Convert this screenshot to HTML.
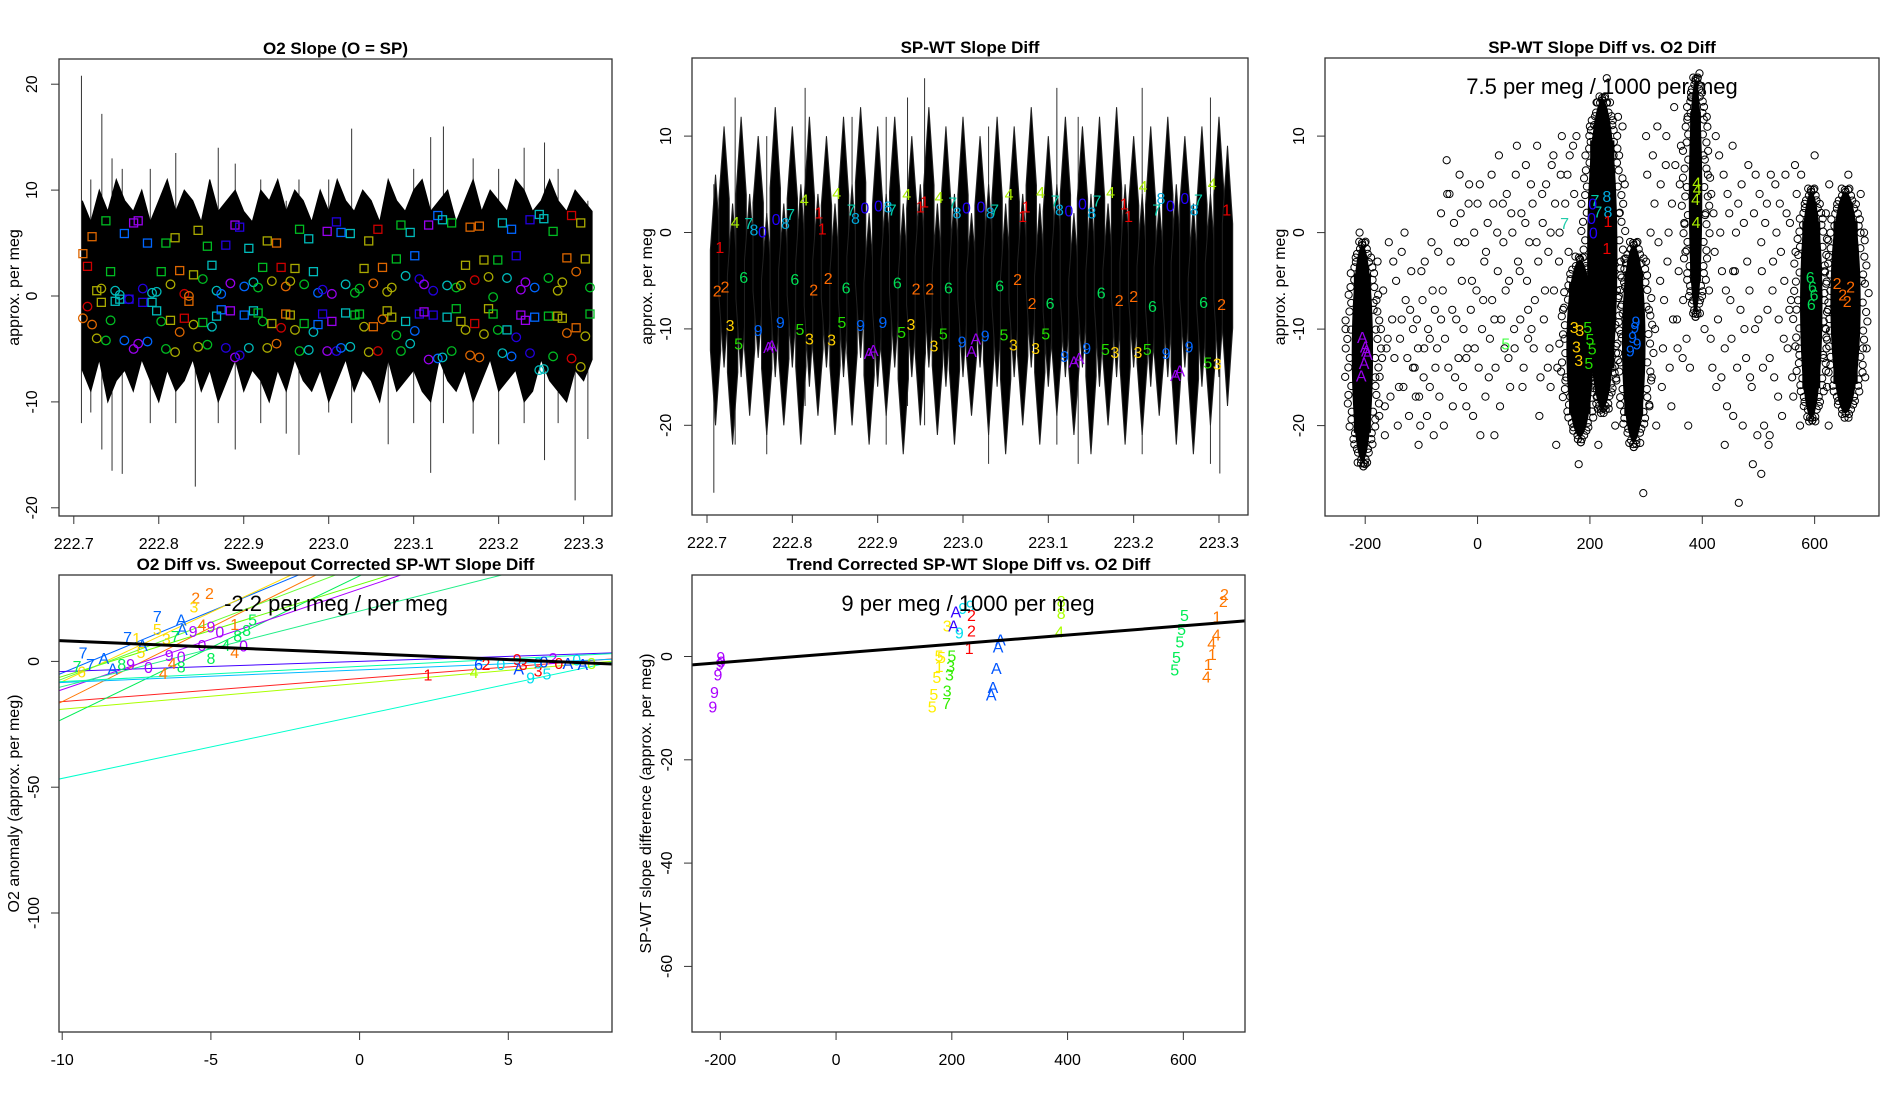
<!DOCTYPE html>
<html><head><meta charset="utf-8">
<style>
html,body{margin:0;padding:0;background:#fff;}
svg{display:block;font-family:"Liberation Sans",sans-serif;}
</style></head>
<body>
<svg id="fig" width="1900" height="1100" viewBox="0 0 1900 1100" xmlns="http://www.w3.org/2000/svg">
<rect x="0" y="0" width="1900" height="1100" fill="#fff"/>
</svg>
<script>
// ---------- Panel 1 data: O2 slope ----------
const envT=[222.71,222.72,222.73,222.74,222.75,222.76,222.77,222.78,222.79,222.80,222.81,222.82,222.83,222.84,222.85,222.86,222.87,222.88,222.89,222.90,222.91,222.92,222.93,222.94,222.95,222.96,222.97,222.98,222.99,223.00,223.01,223.02,223.03,223.04,223.05,223.06,223.07,223.08,223.09,223.10,223.11,223.12,223.13,223.14,223.15,223.16,223.17,223.18,223.19,223.20,223.21,223.22,223.23,223.24,223.25,223.26,223.27,223.28,223.29,223.30,223.31];
const envHi=[9,7,10,8,11,9,8,10,7,9,11,8,10,9,7,11,8,9,10,8,7,10,9,11,8,10,9,7,10,8,11,9,8,10,9,7,11,9,8,10,11,8,9,10,7,9,11,8,10,9,8,11,10,8,9,11,9,8,10,9,8];
const envLo=[-7,-9,-6,-10,-8,-7,-9,-6,-8,-10,-7,-9,-8,-6,-9,-7,-10,-8,-6,-9,-7,-8,-10,-7,-9,-6,-8,-9,-7,-10,-8,-6,-9,-7,-8,-10,-6,-9,-8,-7,-9,-10,-6,-8,-9,-7,-10,-8,-6,-9,-8,-7,-10,-9,-6,-8,-9,-10,-7,-8,-6];
const spikeT=[222.709,222.72,222.733,222.745,222.757,222.79,222.82,222.843,222.870,222.89,222.92,222.95,222.965,223.0,223.027,223.07,223.1,223.12,223.135,223.17,223.2,223.23,223.254,223.27,223.29,223.305];
const spikeHi=[20.8,11,17.2,13,12,12,13.5,5,14,12.5,11,9,11,11,15.8,9,12,15,16,13,12,14,14.5,12,10,9];
const spikeLo=[-12,-11,-14.5,-16.5,-16.8,-12,-12,-18,-12,-14.5,-12,-13,-15,-11,-12,-14,-12,-16.7,-12,-13,-14,-12,-15.5,-12,-19.3,-13.5];
const mT=[222.7107,222.7161,222.7215,222.7270,222.7324,222.7378,222.7433,222.7487,222.7541,222.7595,222.7650,222.7704,222.7758,222.7812,222.7867,222.7921,222.7975,222.8029,222.8084,222.8138,222.8192,222.8246,222.8301,222.8355,222.8409,222.8463,222.8518,222.8572,222.8626,222.8680,222.8735,222.8789,222.8843,222.8897,222.8952,222.9006,222.9060,222.9114,222.9169,222.9223,222.9277,222.9331,222.9386,222.9440,222.9494,222.9548,222.9603,222.9657,222.9711,222.9765,222.9820,222.9874,222.9928,222.9982,223.0037,223.0091,223.0145,223.0199,223.0254,223.0308,223.0362,223.0416,223.0471,223.0525,223.0579,223.0633,223.0688,223.0742,223.0796,223.0850,223.0905,223.0959,223.1013,223.1067,223.1122,223.1176,223.1230,223.1284,223.1339,223.1393,223.1447,223.1501,223.1556,223.1610,223.1664,223.1718,223.1773,223.1827,223.1881,223.1935,223.1990,223.2044,223.2098,223.2152,223.2207,223.2261,223.2315,223.2369,223.2424,223.2478,223.2532,223.2586,223.2641,223.2695,223.2749,223.2803,223.2858,223.2912,223.2966,223.3020,223.3075];
const sqY=[4.0,2.8,5.6,0.5,-0.6,7.1,2.3,-0.5,-0.3,5.9,-0.3,6.9,7.1,-0.6,5.0,-0.6,-1.4,2.3,5.0,-2.3,5.5,2.4,-2.1,-0.5,2.0,6.2,-2.5,4.7,2.9,-1.9,-1.3,4.8,-1.4,6.7,6.5,-1.8,4.5,-1.4,-1.6,2.7,5.2,-2.6,5.0,2.7,-1.7,-1.8,2.6,6.3,-2.6,5.4,2.3,-2.7,-1.7,6.1,-2.4,7.0,6.0,-1.6,5.9,-1.8,-1.7,2.6,5.2,-2.9,6.3,2.7,-1.4,-2.0,3.5,6.7,-2.4,6.0,3.8,-1.7,-1.5,6.7,-1.8,7.6,7.2,-2.0,6.9,-1.2,-2.4,2.9,6.5,-2.6,6.6,3.4,-1.2,-1.7,3.4,6.9,-3.2,6.3,3.8,-1.8,-2.3,7.2,-2.0,7.7,7.3,-1.9,6.1,-1.9,-2.1,3.6,7.6,-3.0,6.9,3.5,-1.7];
const ciY=[-2.1,-1.0,-2.7,-4.0,0.7,-4.2,-2.3,0.5,0.1,-4.2,-0.3,-5.0,-4.5,0.7,-4.3,0.3,0.4,-2.4,-5.0,1.1,-5.3,-3.4,0.2,0.0,-2.7,-4.8,1.6,-4.6,-2.9,0.5,0.2,-4.9,1.2,-5.8,-5.6,0.9,-4.9,1.3,0.8,-2.4,-4.9,1.4,-4.5,-3.0,0.9,1.4,-3.2,-5.2,1.1,-5.1,-3.4,0.3,0.6,-5.2,0.2,-5.2,-4.9,1.1,-4.8,0.3,0.7,-2.9,-5.3,1.2,-5.2,-2.2,0.4,0.8,-3.7,-5.2,1.9,-4.5,-3.3,1.6,1.1,-6.0,0.5,-5.9,-5.8,1.0,-5.2,0.8,1.0,-3.2,-5.6,1.5,-5.8,-3.6,1.8,-0.1,-3.2,-5.4,1.7,-5.7,-3.9,0.6,1.3,-5.4,0.8,-7.0,-6.9,1.7,-5.7,0.5,1.3,-3.5,-5.9,2.3,-6.7,-3.8,0.8];
const mGroup=[0,1,0,2,2,3,3,4,4,5,6,7,7,6,5,4,4,3,3,2,2];

// ---------- Panel 2 data: SP-WT slope diff ----------
const env2Hi=[6,11,3,12,4,10,2,13,3,11,5,12,4,10,3,12,5,13,2,11,4,12,3,10,5,13,3,11,4,12,2,10,5,12,3,11,4,13,3,10,5,12,2,11,4,12,3,13,5,10,4,11,3,12,5,10,3,11,4,12,9];
const env2Lo=[-20,-14,-22,-15,-19,-13,-21,-15,-20,-14,-22,-16,-19,-14,-21,-15,-20,-13,-22,-16,-19,-14,-23,-15,-20,-14,-21,-16,-22,-15,-19,-14,-21,-16,-23,-15,-20,-14,-22,-16,-19,-15,-21,-14,-23,-16,-20,-15,-22,-14,-21,-16,-19,-15,-22,-14,-23,-16,-20,-15,-18];
const spike2T=[222.708,222.733,222.77,222.815,222.87,222.91,222.935,222.955,223.03,223.11,223.135,223.21,223.29,223.301];
const spike2Hi=[5,14,10,15,12,12,14,16,11,15,12,15,14,10];
const spike2Lo=[-27,-22,-23,-18,-20,-22,-18,-20,-24,-22,-24,-23,-24,-25];
const lab2Ch=["1","2","2","3","4","5","6","7","8","0","9","A","A","0","9","8","7","6","5","4","3","2","1","1","2","3","4","5","6","7","8","0","9","A","A","0","9","8","7","6","5","4","3","2","1","1","2","3","4","5","6","7","8","0","9","A","A","0","9","8","7","6","5","4","3","2","1","1","2","3","4","5","6","7","8","0","9","A","A","0","9","8","7","6","5","4","3","2","1","1","2","3","4","5","6","7","8","0","9","A","A","0","9","8","7","6","5","4","3","2","1"];
const lab2T=[222.715,222.712,222.721,222.727,222.733,222.737,222.743,222.749,222.755,222.765,222.760,222.772,222.776,222.781,222.786,222.792,222.798,222.803,222.809,222.814,222.820,222.825,222.831,222.835,222.842,222.846,222.852,222.858,222.863,222.869,222.874,222.885,222.880,222.890,222.895,222.901,222.906,222.912,222.917,222.923,222.928,222.934,222.939,222.945,222.950,222.955,222.961,222.966,222.972,222.977,222.983,222.988,222.993,223.004,222.999,223.010,223.015,223.021,223.026,223.032,223.037,223.043,223.048,223.054,223.059,223.064,223.070,223.074,223.081,223.085,223.091,223.097,223.102,223.108,223.113,223.124,223.119,223.130,223.136,223.140,223.145,223.151,223.157,223.162,223.167,223.173,223.178,223.183,223.189,223.194,223.200,223.205,223.211,223.216,223.222,223.227,223.232,223.243,223.238,223.249,223.254,223.260,223.265,223.271,223.276,223.282,223.287,223.292,223.298,223.303,223.309];
const lab2Y=[-1.5,-6.0,-5.6,-9.6,1.1,-11.5,-4.6,1.0,0.3,0.1,-10.1,-11.9,-11.7,1.4,-9.3,1.0,1.9,-4.8,-10.0,3.4,-11.0,-5.9,2.1,0.4,-4.7,-11.1,4.1,-9.3,-5.7,2.4,1.5,2.6,-9.6,-12.5,-12.2,2.8,-9.3,2.7,2.4,-5.2,-10.3,4.0,-9.5,-5.8,2.7,3.2,-5.8,-11.7,3.7,-10.5,-5.7,3.1,2.1,2.6,-11.3,-12.3,-11.0,2.7,-10.7,2.1,2.4,-5.5,-10.6,4.0,-11.6,-4.8,1.7,2.7,-7.3,-12.0,4.2,-10.5,-7.3,3.3,2.4,2.3,-12.8,-13.4,-13.0,3.0,-12.0,2.1,3.3,-6.2,-12.1,4.2,-12.4,-7.0,3.0,1.7,-6.6,-12.4,4.8,-12.1,-7.6,2.4,3.6,2.8,-12.5,-14.8,-14.3,3.6,-11.8,2.4,3.4,-7.2,-13.5,5.1,-13.6,-7.4,2.4];

// ---------- Panel 3 data: scatter ----------
const scX=[-235,-170,-160,-150,-140,-130,-120,-110,-105,-100,-95,-90,-80,-75,-70,-60,-55,-50,-45,-40,-35,-30,-25,-20,-15,-10,-5,0,5,10,15,20,25,30,35,40,45,50,55,60,65,70,75,80,85,90,95,100,105,110,115,120,125,130,135,140,145,150,155,160,165,170,245,250,255,300,305,310,315,320,325,330,335,340,345,350,355,360,365,370,375,410,415,420,425,430,435,440,445,450,455,460,465,470,475,480,485,490,495,500,505,510,515,520,525,530,535,540,545,550,555,560,565,620,625,690,215,180,295,600,660,-210,-200,200,395,230,-180,-165,-135,-115,-85,-65,-20,30,90,130,440,520,505,455,
-185,-182,-178,-175,-172,-168,-165,-162,-158,-155,-152,-148,-145,-142,-138,-135,-132,-128,-125,-122,-118,-115,-112,-108,-106,-104,-102,-98,-96,-94,
-88,-85,-82,-78,-76,-72,-68,-65,-62,-58,-54,-52,-48,-44,-42,-38,-34,-32,-28,-26,-22,-18,-16,-12,-8,-6,-2,2,4,8,12,14,18,22,26,28,32,36,38,42,46,48,52,56,58,62,66,68,72,76,78,82,86,88,92,96,98,102,106,108,112,116,118,122,126,128,132,136,138,142,146,148,152,156,158,162,164,168,172,174,176,
240,242,248,252,258,262,300,302,306,308,312,316,318,322,326,328,332,336,338,342,346,348,352,356,358,362,366,368,372,374,378,380,402,404,406,408,412,416,418,422,424,428,432,434,438,442,444,448,452,454,458,462,464,468,472,474,478,482,484,488,492,494,498,502,506,508,512,516,518,522,526,528,532,536,538,542,546,548,552,556,558,562,566,568,572,574,576,618,620,622,624,626,616,684,686,688,682];
const scY=[-10,-13,-11,-3,-16,0,-8,-17,-22,-4,-12,-19,-6,-14,-2,-20,7.5,4,-8,-15,-1,2,-10,-18,5,-5,-12,3,-21,-7,-2,-15,6,-9,0,-18,3,-6,-13,2,-10,9,-4,-16,1,-8,5,-12,-1,-19,4,-6,-14,0,8,-22,-3,10,-11,6,-17,9,-20,12,-3,10,-8,-15,3,11,-5,-12,7,0,-18,13,-9,5,-13,-2,-20,6,-11,2,-16,8,-4,-12,4,-7,-19,0,-28,5,-10,-3,-15,-24,6,-9,-1,-20,3,-13,-6,5,-17,-2,-11,2,-8,-15,7,-10,-20,-15,-22,-24,-27,8,6,0,-24,11,16.5,16,-7,-18,-9,-14,-11,-9,-13,-21,-11,-16,-22,-21,-25,-4,
-8,-15,-3,-19,-10,-6,-21,-12,-1,-17,-9,-13,-5,-20,-11,-2,-16,-7,-13,-19,-4,-10,-14,-9,-12,-17,-20,-7,-15,-3,
-10,-16,-1,-21,-8,-12,-17,2,-6,-11,4,-14,-3,-18,1,-9,-13,6,-5,-16,-1,-12,3,-8,-19,0,-6,-14,5,-10,-3,-17,1,-11,-7,3,-14,-4,8,-9,-1,-12,4,-5,-16,0,-12,6,-3,-9,2,-14,7,-5,-1,-10,3,-7,9,-3,-15,1,-9,5,-2,-12,7,-6,3,-14,0,6,-8,3,-15,-2,8,-6,4,-18,10,
-14,8,-6,2,11,5,-3,6,-18,0,8,-10,-20,-1,5,-16,-7,10,-3,-14,3,-9,7,-12,-4,9,-7,1,-11,12,-14,14,8,-10,2,12,-6,4,-14,-2,10,-9,0,-15,6,-6,-18,2,-11,9,-4,-14,3,-8,-20,1,-13,7,-6,-16,2,-10,-21,4,-4,-14,1,-8,-22,6,-3,-15,0,-9,3,-19,-5,6,-12,1,-7,-17,-2,4,-12,-20,6,-4,2,-16,-8,5,-13,-5,-12,0,4];
const clX=[-205,182,222,278,388,594,655];
const clHalfW=[19,24,27,21,12,20,27];
const clTop=[-1.5,-3,13.5,-1.5,15.5,4,4];
const clBot=[-23.5,-21,-18,-21.5,-8,-19,-18.5];
const lab3Ch=["A","A","A","A","A","A","3","3","3","3","5","5","5","5","7","7","0","0","0","8","8","1","1","4","4","4","4","9","9","9","9","9","6","6","6","6","2","2","2","2","5","7"];
const lab3X=[-205,-200,-196,-202,-207,-198,172,182,176,180,196,200,204,198,209,214,203,206,205,230,232,230,232,390,391,388,389,282,276,272,280,284,592,596,599,594,640,650,658,664,50,155];
const lab3Y=[-10.8,-11.8,-12.6,-13.5,-14.8,-12.2,-9.8,-10.1,-11.8,-13.2,-9.8,-11,-12,-13.5,3.4,2.2,1.5,0,3,3.8,2.2,-1.6,1.2,5.2,4.5,3.5,1.1,-9.2,-10.8,-12.2,-9.8,-11.5,-4.6,-5.6,-6.4,-7.4,-5.2,-6.4,-7.1,-5.6,-11.5,1];
const lab3Col=["#9900ee","#9900ee","#9900ee","#9900ee","#9900ee","#9900ee","#ffcc00","#ffcc00","#ffcc00","#ffcc00","#22dd00","#22dd00","#22dd00","#22dd00","#00ccaa","#00ccaa","#2200ff","#2200ff","#2200ff","#00aadd","#00aadd","#ee0000","#ee0000","#aaee00","#aaee00","#aaee00","#aaee00","#0066ff","#0066ff","#0066ff","#0066ff","#0066ff","#00dd55","#00dd55","#00dd55","#00dd55","#ff6a00","#ff6a00","#ff6a00","#ff6a00","#44ff44","#22ccaa"];

// ---------- Panel 4 data ----------
const lnInt=[-21.5,-6.8,-8.7,34,43,44.4,47,28.8,30.6,0,-3.4,-2,38,20];
const lnSlope=[2.5,0.92,1.03,5.7,5.9,4.9,5.5,4.0,3.66,0.4,0.5,0.6,4.5,3.0];
const lnCol=["#00ffcc","#ff2222","#aaff00","#00ee55","#ff7700","#0066ff","#ffdd00","#aa00ff","#66ff00","#4400ff","#00bbff","#00ffaa","#66ff33","#22ee88"];
const regInt4=3.2, regSlope4=-0.5;
const lab4Ch=["2","2","3","7","A","A","5","4","9","9","0","1","5","8","8","3","7","1","A","5","7","9","0","8","4","0","0","4","7","A","7","7","6","A","8","9","0","4","4","8","1","4","6","2","0","9","A","3","5","9","0","0","2","0","A","0","A","8","3"];
const lab4X=[-5.51,-5.05,-5.57,-6.8,-6.0,-5.96,-6.8,-5.3,-5.6,-5.0,-4.7,-4.2,-3.6,-3.8,-4.1,-6.5,-7.8,-7.5,-7.3,-7.35,-6.2,-6.4,-6.0,-5.0,-4.5,-5.3,-3.9,-4.2,-9.3,-8.6,-9.05,-9.5,-9.35,-8.3,-8.0,-7.7,-7.1,-6.6,-6.3,-6.0,2.3,3.85,4.0,4.25,4.75,5.3,5.35,6.0,6.3,5.75,6.0,6.2,6.5,6.7,7.0,7.3,7.5,7.8,5.5];
const lab4Y=[25.3,27.2,21.9,18.0,16.6,12.8,12.8,14.6,12.1,13.8,11.8,14.9,16.6,12.4,10.3,9.1,9.6,9.3,6.5,3.8,10.0,2.6,2.0,1.3,6.5,6.5,6.3,3.8,3.5,1.3,-1.1,-1.8,-4.0,-2.9,-1.1,-1.1,-2.2,-4.6,-0.7,-2.1,-5.3,-4.3,-1.1,-1.1,-1.1,1.0,-2.9,-3.6,-4.9,-6.3,-0.4,-0.1,1.3,-0.7,-0.7,0.7,-1.1,-0.7,-1.1];
const lab4Col=["#ff7700","#ff7700","#ffdd00","#0066ff","#0066ff","#0066ff","#ffdd00","#ff7700","#aa00ff","#aa00ff","#aa00ff","#ff7700","#00ee55","#00ee55","#00ee55","#ffdd00","#0066ff","#ffdd00","#0066ff","#ffdd00","#00ee55","#aa00ff","#aa00ff","#00ee55","#00ee55","#aa00ff","#aa00ff","#ff7700","#0066ff","#0066ff","#0066ff","#00ee55","#ffdd00","#0066ff","#00ee55","#aa00ff","#aa00ff","#ff7700","#ff7700","#00ee55","#ff0000","#aaff00","#0044ff","#ff0000","#00ddee","#ff0000","#0044ff","#ff0000","#00ddee","#00ddee","#00ddee","#0044ff","#aa00ff","#ff0000","#0044ff","#00ddee","#0044ff","#aaff00","#ff0000"];

// ---------- Panel 5 data ----------
const regInt5=0.6, regSlope5=0.0089;
const lab5Ch=["9","9","9","9","9","9","5","5","5","5","5","1","5","3","3","3","7","3","A","A","9","9","9","2","2","1","A","A","A","A","A","8","8","4","5","5","5","5","5","2","2","1","4","4","1","1","4"];
const lab5X=[-199,-201,-204,-210,-213,-198,178,174,169,166,182,178,200,198,196,192,191,192,207,203,213,219,232,234,234,230,284,280,277,271,268,389,389,386,602,597,594,588,585,671,669,658,657,649,650,643,640];
const lab5Y=[-0.1,-1.5,-3.5,-6.9,-9.7,-1.0,0.2,-4.0,-7.3,-9.7,-0.1,-1.8,0.2,-1.8,-3.5,-6.6,-9.0,6.0,8.7,6.0,4.6,9.4,9.9,5.0,8.0,1.6,3.3,1.9,-2.2,-5.9,-7.4,10.7,8.4,4.8,8.0,5.3,2.9,-0.1,-2.5,12.1,10.7,7.7,4.3,2.6,0.5,-1.5,-3.9];
const lab5Col=["#aa00ff","#aa00ff","#aa00ff","#aa00ff","#aa00ff","#aa00ff","#ffee00","#ffee00","#ffee00","#ffee00","#ffee00","#ffee00","#33ee00","#33ee00","#33ee00","#33ee00","#33ee00","#ffee00","#3300ff","#3300ff","#00ddee","#00ddee","#00ddee","#ff0000","#ff0000","#ff0000","#0055ff","#0055ff","#0055ff","#0055ff","#0055ff","#aaff00","#aaff00","#aaff00","#00ee55","#00ee55","#00ee55","#00ee55","#00ee55","#ff7700","#ff7700","#ff7700","#ff7700","#ff7700","#ff7700","#ff7700","#ff7700"];

// ---------- drawing ----------
const NS="http://www.w3.org/2000/svg";
const svg=document.getElementById('fig');
function mk(tag,attrs,parent){const e=document.createElementNS(NS,tag);for(const k in attrs)e.setAttribute(k,attrs[k]);(parent||svg).appendChild(e);return e;}
function txt(parent,x,y,s,size,opts){const e=mk('text',Object.assign({x:x,y:y,'font-size':size,'text-anchor':'middle',fill:'#000'},opts||{}),parent);e.textContent=s;return e;}

const panels=[
 {id:'p1',L:59,R:612,T:59,B:516,title:'O2 Slope (O = SP)',ylab:'approx. per meg',xt:[222.7,222.8,222.9,223.0,223.1,223.2,223.3],xl:['222.7','222.8','222.9','223.0','223.1','223.2','223.3'],yt:[-20,-10,0,10,20],
  sx:v=>73.8+(v-222.7)*849.7, sy:v=>296-10.59*v, ytx:31, ylx:13},
 {id:'p2',L:692,R:1248,T:58,B:515,title:'SP-WT Slope Diff',ylab:'approx. per meg',xt:[222.7,222.8,222.9,223.0,223.1,223.2,223.3],xl:['222.7','222.8','222.9','223.0','223.1','223.2','223.3'],yt:[-20,-10,0,10],
  sx:v=>707+(v-222.7)*853.3, sy:v=>232.5-9.64*v, ytx:665, ylx:646},
 {id:'p3',L:1325,R:1879,T:58,B:516,title:'SP-WT Slope Diff vs. O2 Diff',ylab:'approx. per meg',xt:[-200,0,200,400,600],xl:['-200','0','200','400','600'],yt:[-20,-10,0,10],
  sx:v=>1365.2+(v+200)*0.5618, sy:v=>232.6-9.65*v, ytx:1298, ylx:1279},
 {id:'p4',L:59,R:612,T:575,B:1032,title:'O2 Diff vs. Sweepout Corrected SP-WT Slope Diff',ylab:'O2 anomaly (approx. per meg)',xt:[-10,-5,0,5],xl:['-10','-5','0','5'],yt:[-100,-50,0],
  sx:v=>62.2+(v+10)*29.74, sy:v=>661.4-2.516*v, ytx:33, ylx:13},
 {id:'p5',L:692,R:1245,T:575,B:1032,title:'Trend Corrected SP-WT Slope Diff vs. O2 Diff',ylab:'SP-WT slope difference (approx. per meg)',xt:[-200,0,200,400,600],xl:['-200','0','200','400','600'],yt:[-60,-40,-20,0],
  sx:v=>720.3+(v+200)*0.5788, sy:v=>656.5-5.165*v, ytx:666, ylx:645}
];
const defs=mk('defs',{});
const G={};
panels.forEach(p=>{
  const cp=mk('clipPath',{id:'clip-'+p.id},defs);
  mk('rect',{x:p.L,y:p.T,width:p.R-p.L,height:p.B-p.T},cp);
  const g=mk('g',{});
  
  
  const plot=mk('g',{'clip-path':'url(#clip-'+p.id+')'},g);
  
  
  G[p.id]={g:g,plot:plot,p:p};
});

// Panel 1 drawing
(function(){
  const {plot,p}=G.p1;
  const n=Math.min(envT.length,envHi.length,envLo.length);
  for(let i=0;i<spikeT.length;i++){
    const l=mk('line',{x1:p.sx(spikeT[i]),x2:p.sx(spikeT[i]),y1:p.sy(spikeHi[i]),y2:p.sy(spikeLo[i]),stroke:'#333','stroke-width':1},plot);
    
    
  }
  let pts=[];
  for(let i=0;i<n;i++)pts.push(p.sx(envT[i])+','+p.sy(envHi[i]));
  for(let i=n-1;i>=0;i--)pts.push(p.sx(envT[i])+','+p.sy(envLo[i]));
  const poly=mk('polygon',{points:pts.join(' '),fill:'#000',stroke:'#000','stroke-width':1},plot);
  
  
  const pal=['#dd6600','#cc0000','#aaaa00','#00bb22','#00bbbb','#0066ff','#2200dd','#9900ee'];
  const m=Math.min(mT.length,sqY.length,ciY.length);
  for(let i=0;i<m;i++){
    const c=pal[mGroup[i%mGroup.length]];
    const x=p.sx(mT[i]);
    const s=mk('rect',{x:x-4,y:p.sy(sqY[i])-4,width:8,height:8,fill:'none',stroke:c,'stroke-width':1.3},plot);
    
    
    const o=mk('circle',{cx:x,cy:p.sy(ciY[i]),r:4.3,fill:'none',stroke:c,'stroke-width':1.3},plot);
    
    
  }
})();

// Panel 2 drawing
const colMap={'1':'#ee0000','2':'#ff6a00','3':'#ffd000','4':'#aaee00','5':'#22dd00','6':'#00dd55','7':'#00ccaa','8':'#00aadd','0':'#2200ff','9':'#0066ff','A':'#9900ee'};
(function(){
  const {plot,p}=G.p2;
  for(let i=0;i<spike2T.length;i++){
    const l=mk('line',{x1:p.sx(spike2T[i]),x2:p.sx(spike2T[i]),y1:p.sy(spike2Hi[i]),y2:p.sy(spike2Lo[i]),stroke:'#333','stroke-width':1},plot);
    
    
  }
  const n=Math.min(envT.length,env2Hi.length,env2Lo.length);
  for(let i=0;i<n;i++){
    const x=p.sx(envT[i]), yt=p.sy(env2Hi[i]), yb=p.sy(env2Lo[i]);
    const h=yb-yt, w=5.2;
    const pts=[[x,yt],[x+w,yt+h*0.3],[x+w,yt+h*0.7],[x,yb],[x-w,yt+h*0.7],[x-w,yt+h*0.3]].map(a=>a.join(',')).join(' ');
    const col=mk('polygon',{points:pts,fill:'#000',stroke:'#222','stroke-width':1},plot);
    
    
  }
  for(let i=0;i<lab2Ch.length;i++){
    const t=txt(plot,p.sx(lab2T[i]),p.sy(lab2Y[i])+6,lab2Ch[i],16,{fill:colMap[lab2Ch[i]]});
    
    
  }
})();

// Panel 3 drawing
(function(){
  const {plot,p}=G.p3;
  const n=Math.min(scX.length,scY.length);
  for(let i=0;i<n;i++){
    const c=mk('circle',{cx:p.sx(scX[i]),cy:p.sy(scY[i]),r:3.6,fill:'none',stroke:'#000','stroke-width':1},plot);
    
    
  }
  for(let i=0;i<clX.length;i++){
    const x0=p.sx(clX[i]-clHalfW[i]),x1=p.sx(clX[i]+clHalfW[i]);
    const y0=p.sy(clTop[i]),y1=p.sy(clBot[i]);
    const cx=(x0+x1)/2, cy=(y0+y1)/2, rx=(x1-x0)/2, ry=(y1-y0)/2;
    const e=mk('ellipse',{cx:cx,cy:cy,rx:rx,ry:ry*1.02,fill:'#000'},plot);
    
    
    const r2=mk('rect',{x:cx-rx*0.8,y:y0+ry*0.25,width:rx*1.6,height:ry*1.5,fill:'#000'},plot);
    
    
    const steps=Math.round(2*ry/6);
    for(let k=0;k<=steps;k++){
      const ang=-Math.PI/2+Math.PI*k/steps;
      const off=(k%3)*2.5+2;
      [1,-1].forEach(sg=>{
        const xx=cx+sg*(rx*Math.cos(ang)+off*Math.abs(Math.cos(ang))+(k%2?1:0)*sg);
        const yy=cy+ry*Math.sin(ang)+(Math.abs(Math.sin(ang))>0.95?Math.sign(Math.sin(ang))*off:0);
        const c=mk('circle',{cx:xx,cy:yy,r:3.6,fill:'none',stroke:'#000','stroke-width':1},plot);
        
        
      });
    }
  }
  for(let i=0;i<lab3Ch.length;i++){
    const t=txt(plot,p.sx(lab3X[i]),p.sy(lab3Y[i])+6,lab3Ch[i],16,{fill:lab3Col[i]});
    
    
  }
  const a=txt(G.p3.g,1602,94,'7.5 per meg / 1000 per meg',22);
  
  
})();

// Panel 4 drawing
(function(){
  const {plot,p}=G.p4;
  const xa=-10.5,xb=9;
  for(let i=0;i<lnInt.length;i++){
    const l=mk('line',{x1:p.sx(xa),y1:p.sy(lnInt[i]+lnSlope[i]*xa),x2:p.sx(xb),y2:p.sy(lnInt[i]+lnSlope[i]*xb),stroke:lnCol[i],'stroke-width':1},plot);
    
    
  }
  for(let i=0;i<lab4Ch.length;i++){
    const t=txt(plot,p.sx(lab4X[i]),p.sy(lab4Y[i])+6,lab4Ch[i],16,{fill:lab4Col[i]});
    
    
  }
  const r=mk('line',{x1:p.sx(xa),y1:p.sy(regInt4+regSlope4*xa),x2:p.sx(xb),y2:p.sy(regInt4+regSlope4*xb),stroke:'#000','stroke-width':3},plot);
  
  
  const a=txt(G.p4.g,336,611,'-2.2 per meg / per meg',22);
  
  
})();

// Panel 5 drawing
(function(){
  const {plot,p}=G.p5;
  for(let i=0;i<lab5Ch.length;i++){
    const t=txt(plot,p.sx(lab5X[i]),p.sy(lab5Y[i])+6,lab5Ch[i],16,{fill:lab5Col[i]});
    
    
  }
  const xa=-260,xb=720;
  const r=mk('line',{x1:p.sx(xa),y1:p.sy(regInt5+regSlope5*xa),x2:p.sx(xb),y2:p.sy(regInt5+regSlope5*xb),stroke:'#000','stroke-width':3},plot);
  
  
  const a=txt(G.p5.g,968,611,'9 per meg / 1000 per meg',22);
  
  
})();

// Frames, axes, titles
panels.forEach(p=>{
  const g=G[p.id].g;
  const box=mk('rect',{x:p.L,y:p.T,width:p.R-p.L,height:p.B-p.T,fill:'none',stroke:'#333','stroke-width':1.3},g);
  
  
  const tt=txt(g,(p.L+p.R)/2,p.T-5,p.title,17,{'font-weight':'bold'});
  
  
  const xa=mk('g',{},g);
  
  
  const x0=p.sx(p.xt[0]),x1=p.sx(p.xt[p.xt.length-1]);
  mk('line',{x1:x0,x2:x1,y1:p.B,y2:p.B,stroke:'#333','stroke-width':1},xa);
  p.xt.forEach((v,i)=>{
    const x=p.sx(v);
    const tk=mk('line',{x1:x,x2:x,y1:p.B,y2:p.B+8,stroke:'#333','stroke-width':1},xa);
    
    
    const lb=txt(xa,x,p.B+33,p.xl[i],16);
    
    
  });
  const ya=mk('g',{},g);
  
  
  mk('line',{x1:p.L,x2:p.L,y1:p.sy(p.yt[0]),y2:p.sy(p.yt[p.yt.length-1]),stroke:'#333','stroke-width':1},ya);
  p.yt.forEach(v=>{
    const y=p.sy(v);
    const tk=mk('line',{x1:p.L-8,x2:p.L,y1:y,y2:y,stroke:'#333','stroke-width':1},ya);
    
    
    const lb=txt(ya,0,0,String(v),16,{transform:'translate('+(p.ytx+6)+','+y+') rotate(-90)'});
    
    
  });
  const yl=txt(g,0,0,p.ylab,16,{transform:'translate('+(p.ylx+6)+','+((p.T+p.B)/2)+') rotate(-90)'});
  
  
});
</script>
</body></html>
